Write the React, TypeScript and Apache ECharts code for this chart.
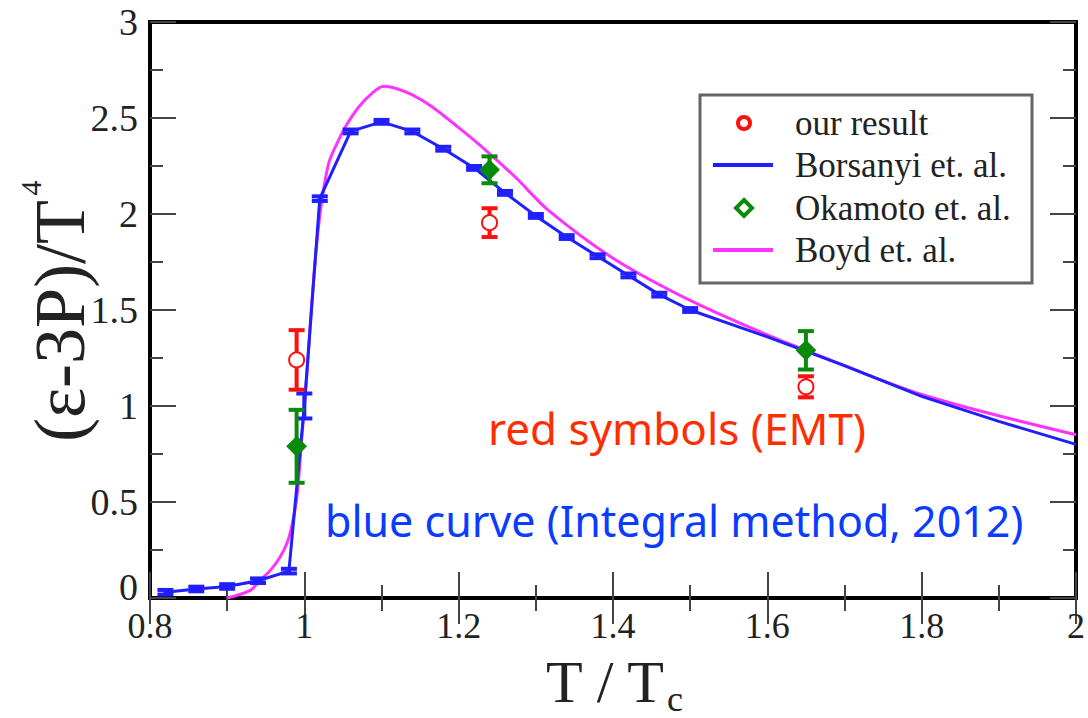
import React, { useEffect, useRef } from "react";
import * as echarts from "echarts";

// Borsanyi et. al. (lattice points; markers drawn as small error bars)
const borsanyiT = [0.82, 0.86, 0.9, 0.94, 0.98, 1.0, 1.02, 1.06, 1.1, 1.14, 1.18, 1.22, 1.26, 1.3, 1.34, 1.38, 1.42, 1.46, 1.5, 1.6, 1.7, 1.8, 1.9, 2.0];
const borsanyiV = [0.03, 0.047, 0.06, 0.09, 0.14, 1.0, 2.08, 2.43, 2.48, 2.43, 2.34, 2.24, 2.11, 1.99, 1.88, 1.78, 1.68, 1.58, 1.5, 1.36, 1.21, 1.05, 0.92, 0.8];
const borsanyiErr = [0.012, 0.012, 0.012, 0.012, 0.012, 0.065, 0.012, 0.01, 0.01, 0.01, 0.01, 0.01, 0.01, 0.01, 0.01, 0.01, 0.01, 0.01, 0.01, 0, 0, 0, 0, 0];

// Boyd et. al.
const boydT = [0.9, 0.93, 0.942, 0.955, 0.968, 0.978, 0.985, 0.991, 0.997, 1.003, 1.009, 1.015, 1.022, 1.032, 1.045, 1.054, 1.071, 1.088, 1.103, 1.118, 1.14, 1.165, 1.2, 1.23, 1.274, 1.316, 1.4, 1.5, 1.6, 1.65, 1.8, 2.0];
const boydV = [0.0, 0.04, 0.09, 0.14, 0.21, 0.29, 0.4, 0.55, 0.85, 1.15, 1.5, 1.8, 2.05, 2.27, 2.39, 2.46, 2.56, 2.63, 2.665, 2.655, 2.62, 2.56, 2.45, 2.35, 2.19, 2.02, 1.77, 1.55, 1.37, 1.29, 1.06, 0.85];

// our result (red)
const ourT = [0.99, 1.24, 1.65];
const ourV = [1.24, 1.955, 1.1];
const ourErr = [0.155, 0.075, 0.055];

// Okamoto et. al. (green)
const okaT = [0.99, 1.24, 1.65];
const okaV = [0.79, 2.23, 1.29];
const okaErr = [0.19, 0.07, 0.1];

const xMin = 0.8, xMax = 2.0, xStep = 0.2;
const yMin = 0, yMax = 3, yStep = 0.5;

const SERIF = "'Liberation Serif', 'DejaVu Serif', serif";
const SANS = "'Noto Sans', 'DejaVu Sans', sans-serif";

function errorBarSeries(name: string, T: number[], V: number[], E: number[], color: string, halfCap: number, z: number) {
  const data: number[][] = [];
  T.forEach((t, i) => {
    if (E[i] > 0) data.push([t, V[i], E[i]]);
  });
  return {
    type: "custom",
    name,
    z,
    data,
    encode: { x: 0, y: 1 },
    renderItem: (params: any, api: any) => {
      const x = api.value(0);
      const y = api.value(1);
      const e = api.value(2);
      const top = api.coord([x, y + e]);
      const bot = api.coord([x, y - e]);
      const st = { stroke: color, lineWidth: 4 };
      return {
        type: "group",
        children: [
          { type: "line", shape: { x1: top[0], y1: top[1], x2: bot[0], y2: bot[1] }, style: st },
          { type: "line", shape: { x1: top[0] - halfCap, y1: top[1], x2: top[0] + halfCap, y2: top[1] }, style: st },
          { type: "line", shape: { x1: bot[0] - halfCap, y1: bot[1], x2: bot[0] + halfCap, y2: bot[1] }, style: st },
        ],
      };
    },
  };
}

export default function App() {
  const ref = useRef<HTMLDivElement>(null);
  useEffect(() => {
    document.body.style.margin = "0";
    if (!ref.current) return;
    const chart = echarts.init(ref.current, undefined, { renderer: "svg" });

    const tickCommon = {
      axisLine: { show: true, lineStyle: { color: "#000", width: 4 } },
      axisTick: { show: true, inside: true, length: 26, lineStyle: { color: "#444", width: 2 } },
      minorTick: { show: true, splitNumber: 2, length: 13, lineStyle: { color: "#444", width: 2 } },
      splitLine: { show: false },
      minorSplitLine: { show: false },
    };

    const legendX = 700, legendY = 95;
    const rowY = [123, 165, 208, 250];

    chart.setOption({
      animation: false,
      backgroundColor: "#fff",
      grid: { left: 150, right: 8, top: 22, bottom: 120, show: true, borderColor: "#000", borderWidth: 4 },
      xAxis: [
        {
          type: "value", min: xMin, max: xMax, interval: xStep, position: "bottom",
          ...tickCommon,
          axisLabel: { fontSize: 36, fontFamily: SERIF, color: "#222", margin: 10 },
        },
        {
          type: "value", min: xMin, max: xMax, interval: xStep, position: "top",
          ...tickCommon,
          axisLabel: { show: false },
        },
      ],
      yAxis: [
        {
          type: "value", min: yMin, max: yMax, interval: yStep, position: "left",
          ...tickCommon,
          axisLabel: { fontSize: 38, fontFamily: SERIF, color: "#222", margin: 12, showMinLabel: false },
        },
        {
          type: "value", min: yMin, max: yMax, interval: yStep, position: "right",
          ...tickCommon,
          axisLabel: { show: false },
        },
      ],
      series: [
        {
          type: "line", name: "Boyd et. al.", z: 2,
          data: boydT.map((t, i) => [t, boydV[i]]),
          smooth: 0.3, symbol: "none",
          lineStyle: { color: "#ff33ff", width: 3 },
        },
        {
          type: "line", name: "Borsanyi et. al.", z: 3,
          data: borsanyiT.map((t, i) => [t, borsanyiV[i]]),
          symbol: "none",
          lineStyle: { color: "#1f1fff", width: 3 },
        },
        errorBarSeries("Borsanyi err", borsanyiT, borsanyiV, borsanyiErr, "#1f1fff", 8, 4),
        errorBarSeries("Okamoto err", okaT, okaV, okaErr, "#0a8a0a", 8, 5),
        {
          type: "scatter", name: "Okamoto et. al.", z: 6,
          data: okaT.map((t, i) => [t, okaV[i]]),
          symbol: "diamond", symbolSize: 18,
          itemStyle: { color: "#0a8a0a", borderColor: "#0a8a0a", borderWidth: 2, opacity: 1 },
        },
        errorBarSeries("our err", ourT, ourV, ourErr, "#ff1010", 8, 7),
        {
          type: "scatter", name: "our result", z: 8,
          data: ourT.map((t, i) => [t, ourV[i]]),
          symbol: "emptyCircle", symbolSize: 15,
          itemStyle: { color: "#ff1010", borderColor: "#ff1010", borderWidth: 4, opacity: 1 },
        },
      ],
      graphic: [
        // y axis zero label (lifted slightly clear of the x tick labels)
        {
          type: "text", x: 138, y: 606, z: 20,
          style: { text: "0", fontSize: 38, fontFamily: SERIF, fill: "#222", textAlign: "right", textVerticalAlign: "bottom" },
        },
        // y axis title
        {
          type: "text", x: 60, y: 321, rotation: Math.PI / 2, z: 20,
          style: { text: "(ε-3P)/T", fontSize: 72, fontFamily: SERIF, fill: "#222", textAlign: "center", textVerticalAlign: "middle" },
        },
        {
          type: "text", x: 30, y: 188, rotation: Math.PI / 2, z: 20,
          style: { text: "4", fontSize: 30, fontFamily: SERIF, fill: "#222", textAlign: "center", textVerticalAlign: "middle" },
        },
        // x axis title
        {
          type: "text", x: 605, y: 682, z: 20,
          style: { text: "T / T", fontSize: 60, fontFamily: SERIF, fill: "#222", textAlign: "center", textVerticalAlign: "middle" },
        },
        {
          type: "text", x: 675, y: 699, z: 20,
          style: { text: "c", fontSize: 36, fontFamily: SERIF, fill: "#222", textAlign: "center", textVerticalAlign: "middle" },
        },
        // annotations
        {
          type: "text", x: 488, y: 428, z: 20,
          style: { text: "red symbols (EMT)", fontSize: 44, fontFamily: SANS, fill: "#ff2d00", textAlign: "left", textVerticalAlign: "middle" },
        },
        {
          type: "text", x: 325, y: 520, z: 20,
          style: { text: "blue curve (Integral method, 2012)", fontSize: 43, fontFamily: SANS, fill: "#0a3cff", textAlign: "left", textVerticalAlign: "middle" },
        },
        // legend
        {
          type: "group", z: 30,
          children: [
            { type: "rect", shape: { x: legendX, y: legendY, width: 332, height: 188 }, style: { fill: "#fff", stroke: "#666", lineWidth: 3 } },
            { type: "circle", shape: { cx: 744, cy: rowY[0], r: 6 }, style: { fill: "#fff", stroke: "#ff1010", lineWidth: 4 } },
            { type: "text", x: 795, y: rowY[0], style: { text: "our result", fontSize: 35, fontFamily: SERIF, fill: "#222", textVerticalAlign: "middle" } },
            { type: "line", shape: { x1: 713, y1: rowY[1], x2: 773, y2: rowY[1] }, style: { stroke: "#1f1fff", lineWidth: 4 } },
            { type: "text", x: 795, y: rowY[1], style: { text: "Borsanyi et. al.", fontSize: 35, fontFamily: SERIF, fill: "#222", textVerticalAlign: "middle" } },
            { type: "polygon", shape: { points: [[744, rowY[2] - 8], [752, rowY[2]], [744, rowY[2] + 8], [736, rowY[2]]] }, style: { fill: "#fff", stroke: "#0a8a0a", lineWidth: 4 } },
            { type: "text", x: 795, y: rowY[2], style: { text: "Okamoto et. al.", fontSize: 35, fontFamily: SERIF, fill: "#222", textVerticalAlign: "middle" } },
            { type: "line", shape: { x1: 713, y1: rowY[3], x2: 773, y2: rowY[3] }, style: { stroke: "#ff33ff", lineWidth: 4 } },
            { type: "text", x: 795, y: rowY[3], style: { text: "Boyd et. al.", fontSize: 35, fontFamily: SERIF, fill: "#222", textVerticalAlign: "middle" } },
          ],
        },
      ],
    });
    return () => chart.dispose();
  }, []);
  return <div ref={ref} style={{ width: 1088, height: 718 }} />;
}
